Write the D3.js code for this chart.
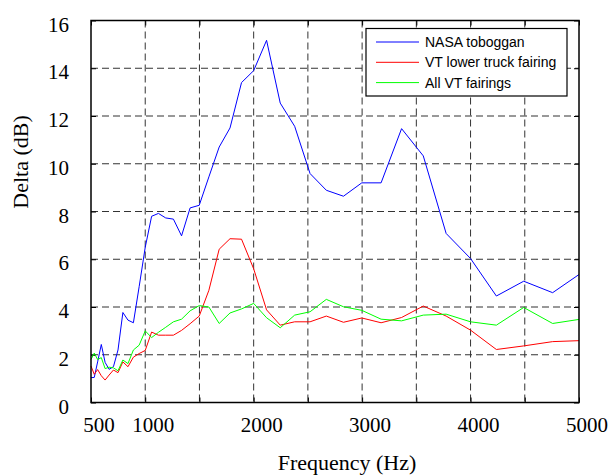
<!DOCTYPE html>
<html>
<head>
<meta charset="utf-8">
<script src="https://cdn.jsdelivr.net/npm/d3@7"></script>
<style>
  body { margin: 0; background: #fff; }
</style>
</head>
<body>
<div id="viz"></div>
<script>
// 1/12-octave band centres, Hz
const freqs = [500, 530, 561, 595, 630, 667, 707, 749, 794, 841, 891, 944, 1000, 1059, 1122, 1189,
  1260, 1335, 1414, 1498, 1587, 1682, 1782, 1888, 2000, 2119, 2245, 2378, 2520, 2670, 2828, 2997,
  3175, 3364, 3564, 3775, 4000, 4238, 4490, 4757, 5000]

const nasaToboggan = [1.04, 1.05, 1.7, 2.43, 1.68, 1.39, 1.5, 2.2, 3.77, 3.45, 3.34, 4.85, 6.5, 7.8,
  7.92, 7.73, 7.68, 6.98, 8.15, 8.26, 9.45, 10.7, 11.5, 13.4, 13.9, 15.17, 12.54, 11.57, 9.59, 8.89,
  8.64, 9.2, 9.2, 11.47, 10.33, 7.08, 6.03, 4.46, 5.08, 4.6, 5.36]

const vtLowerTruck = [1.53, 1.18, 1.38, 1.12, 0.94, 1.15, 1.36, 1.25, 1.7, 1.5, 1.9, 2.05, 2.18, 2.95,
  2.82, 2.82, 2.82, 3.02, 3.3, 3.62, 4.7, 6.42, 6.86, 6.84, 5.6, 3.88, 3.24, 3.38, 3.38, 3.62, 3.36,
  3.54, 3.34, 3.56, 4.04, 3.62, 3.03, 2.22, 2.37, 2.55, 2.59]

const allVtFairings = [1.8, 2.07, 1.8, 1.88, 1.42, 1.48, 1.45, 1.33, 1.78, 1.63, 2.2, 2.4, 3.0, 2.72,
  2.94, 3.15, 3.38, 3.49, 3.84, 4.06, 4.0, 3.31, 3.75, 3.92, 4.15, 3.55, 3.13, 3.66, 3.8, 4.32, 4.01,
  3.86, 3.49, 3.42, 3.66, 3.7, 3.38, 3.24, 3.98, 3.31, 3.48]

const seriesNames = ["NASA toboggan", "VT lower truck fairing", "All VT fairings"]
const seriesColors = ["#0000ff", "#ff0000", "#00ff00"]

const xGridValues = [1000, 1500, 2000, 2500, 3000, 3500, 4000, 4500]
const xTickLabels = [500, 1000, 2000, 3000, 4000, 5000]
const yTickValues = [0, 2, 4, 6, 8, 10, 12, 14, 16]

function drawChart () {
    const width = 608
    const height = 476
    const margin = {top: 20.5, right: 29, bottom: 73.5, left: 91}
    const innerW = width - margin.left - margin.right
    const innerH = height - margin.top - margin.bottom

    const svg = d3.select("#viz")
                  .append("svg")
                  .attr("width", width)
                  .attr("height", height)
                  .style("background", "#fff")

    const g = svg.append("g")
                 .attr("transform", `translate(${margin.left},${margin.top})`)

    const xScale = d3.scaleLinear().domain([500, 5000]).range([0, innerW])
    const yScale = d3.scaleLinear().domain([0, 16]).range([innerH, 0])

    // dashed grid
    g.append("g").selectAll("line")
      .data(xGridValues)
      .join("line")
      .attr("x1", d => xScale(d)).attr("x2", d => xScale(d))
      .attr("y1", 0).attr("y2", innerH)
      .attr("stroke", "#333").attr("stroke-width", 1).attr("stroke-dasharray", "7,4")

    g.append("g").selectAll("line")
      .data(yTickValues.filter(d => d > 0 && d < 16))
      .join("line")
      .attr("x1", 0).attr("x2", innerW)
      .attr("y1", d => yScale(d)).attr("y2", d => yScale(d))
      .attr("stroke", "#333").attr("stroke-width", 1).attr("stroke-dasharray", "7,4")

    // inward ticks on every side
    const allX = [500].concat(xGridValues, [5000])
    g.append("g").call(d3.axisBottom(xScale).tickValues(allX).tickSize(-5).tickFormat(""))
      .attr("transform", `translate(0,${innerH})`)
      .call(a => a.select(".domain").remove())
    g.append("g").call(d3.axisTop(xScale).tickValues(allX).tickSize(-5).tickFormat(""))
      .call(a => a.select(".domain").remove())
    g.append("g").call(d3.axisLeft(yScale).tickValues(yTickValues).tickSize(-5).tickFormat(""))
      .call(a => a.select(".domain").remove())
    g.append("g").call(d3.axisRight(yScale).tickValues(yTickValues).tickSize(-5).tickFormat(""))
      .attr("transform", `translate(${innerW},0)`)
      .call(a => a.select(".domain").remove())

    // series lines
    const line = d3.line()
                   .x((d, i) => xScale(freqs[i]))
                   .y(d => yScale(d))
    const allSeries = [nasaToboggan, vtLowerTruck, allVtFairings]
    g.append("g").selectAll("path")
      .data(allSeries)
      .join("path")
      .attr("d", line)
      .attr("fill", "none")
      .attr("stroke", (d, i) => seriesColors[i])
      .attr("stroke-width", 1)

    // frame
    g.append("rect")
      .attr("width", innerW).attr("height", innerH)
      .attr("fill", "none").attr("stroke", "#000").attr("stroke-width", 1.5)

    // tick labels
    const serif = "'Liberation Serif', 'Times New Roman', serif"
    g.append("g").selectAll("text")
      .data(yTickValues)
      .join("text")
      .attr("x", -22)
      .attr("y", d => yScale(d) + 11)
      .attr("text-anchor", "end")
      .attr("font-family", serif).attr("font-size", 21)
      .text(d => d)

    g.append("g").selectAll("text")
      .data(xTickLabels)
      .join("text")
      .attr("x", d => xScale(d) + 8)
      .attr("y", innerH + 29)
      .attr("text-anchor", "middle")
      .attr("font-family", serif).attr("font-size", 21)
      .text(d => d)

    svg.append("text")
       .attr("x", 347).attr("y", 470)
       .attr("text-anchor", "middle")
       .attr("font-family", serif).attr("font-size", 22)
       .text("Frequency (Hz)")

    svg.append("text")
       .attr("transform", "translate(28,162) rotate(-90)")
       .attr("text-anchor", "middle")
       .attr("font-family", serif).attr("font-size", 22)
       .text("Delta (dB)")

    // legend
    const legend = svg.append("g").attr("transform", "translate(366,28.5)")
    legend.append("rect")
          .attr("width", 201).attr("height", 67.5)
          .attr("fill", "#fff").attr("stroke", "#000").attr("stroke-width", 1.2)
    const item = legend.selectAll("g.item")
                       .data(seriesNames)
                       .join("g")
                       .attr("class", "item")
                       .attr("transform", (d, i) => `translate(0,${13.5 + i * 20.3})`)
    item.append("line")
        .attr("x1", 10).attr("x2", 53)
        .attr("stroke", (d, i) => seriesColors[i]).attr("stroke-width", 1)
    item.append("text")
        .attr("x", 59).attr("y", 5)
        .attr("font-family", "'Liberation Sans', Arial, sans-serif").attr("font-size", 14)
        .text(d => d)
}

drawChart()
</script>
</body>
</html>
